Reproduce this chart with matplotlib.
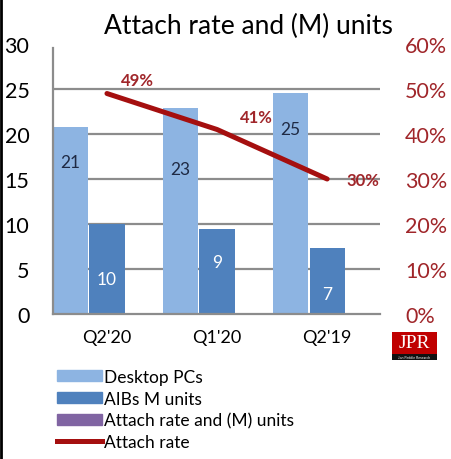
import numpy as np
import matplotlib.pyplot as plt
from matplotlib.patches import Rectangle
from matplotlib.lines import Line2D

plt.rcParams['font.family'] = ['Lato', 'DejaVu Sans']

quarters = ["Q2'20", "Q1'20", "Q2'19"]
desktop_pcs = [20.8, 22.9, 24.6]
aib_units = [10.0, 9.4, 7.3]
attach_rate = [0.49, 0.41, 0.30]

# hand placed label heights as in the original
desktop_label_y = [16.9, 16.1, 20.5]
aib_label_y = [3.9, 5.8, 2.2]
rate_label_pos = [(0.28, 0.52), (0.36, 0.438), (0.32, 0.298)]

c_desk = '#8DB4E2'
c_aib = '#4F81BD'
c_purple = '#8064A2'
c_line = '#A50F0F'
c_red_text = '#A0262A'
c_grid = '#8C8C8C'

fig = plt.figure(figsize=(4.51, 4.60), dpi=100)
ax = fig.add_axes([53/451, 1 - 315/460, 327/451, 270/460])
x = np.arange(len(quarters))
w = 0.32

ax.bar(x - 0.335, desktop_pcs, w, color=c_desk, zorder=2)
ax.bar(x, aib_units, w, color=c_aib, zorder=2)

for i in range(len(quarters)):
    ax.text(x[i] - 0.335, desktop_label_y[i], f'{desktop_pcs[i]:.0f}', ha='center', va='center',
            fontsize=12.5, color='#1F2A44', zorder=3)
    ax.text(x[i], aib_label_y[i], f'{aib_units[i]:.0f}', ha='center', va='center',
            fontsize=12.5, color='white', zorder=3)

ax.set_xlim(-0.49, 2.48)
ax.set_ylim(0, 30)
ax.set_yticks(range(0, 31, 5))
for g in range(5, 30, 5):
    ax.axhline(g, color=c_grid, lw=1.6, zorder=1)
for s in ['top', 'right']:
    ax.spines[s].set_visible(False)
ax.spines['left'].set_color(c_grid)
ax.spines['bottom'].set_color(c_grid)
ax.spines['left'].set_linewidth(1.6)
ax.spines['bottom'].set_linewidth(1.6)
ax.spines['left'].set_bounds(0, 29.6)
ax.tick_params(axis='y', length=0, labelsize=15.5, pad=17)
ax.tick_params(axis='x', length=0, labelsize=13, pad=11)
ax.set_xticks(x)
ax.set_xticklabels(quarters)

ax2 = ax.twinx()
ax2.set_ylim(0, 0.6)
ax2.set_yticks(np.arange(0, 0.61, 0.1))
ax2.set_yticklabels([f'{v}%' for v in range(0, 61, 10)])
ax2.tick_params(axis='y', length=0, labelsize=15.5, pad=18, labelcolor=c_red_text)
for s in ax2.spines.values():
    s.set_visible(False)
ax2.plot(x, attach_rate, color=c_line, lw=3.6, solid_capstyle='round', zorder=4)
for i in range(len(quarters)):
    dx, yy = rate_label_pos[i]
    ax2.text(x[i] + dx, yy, f'{attach_rate[i]*100:.0f}%', ha='center', va='center',
             fontsize=12, fontweight='bold', color=c_red_text, zorder=5)

fig.text(248/451, 1 - 26/460, 'Attach rate and (M) units', ha='center', va='center', fontsize=19)

# legend
handles = [Rectangle((0, 0), 1, 1, color=c_desk),
           Rectangle((0, 0), 1, 1, color=c_aib),
           Rectangle((0, 0), 1, 1, color=c_purple),
           Line2D([0], [0], color=c_line, lw=3.6)]
labels = ['Desktop PCs', 'AIBs M units', 'Attach rate and (M) units', 'Attach rate']
fig.legend(handles, labels, loc='upper left', bbox_to_anchor=(50/451, 1 - 363/460),
           frameon=False, fontsize=12.5, handlelength=2.6, handleheight=0.6,
           handletextpad=0.1, labelspacing=0.33, borderaxespad=0)

# JPR logo
fig.patches.append(Rectangle((392/451, 1 - 361/460), 45/451, 28/460, transform=fig.transFigure,
                             facecolor='#C00000', edgecolor='none'))
fig.patches.append(Rectangle((392/451, 1 - 361/460), 45/451, 6/460, transform=fig.transFigure,
                             facecolor='#111111', edgecolor='none'))
fig.text(414/451, 1 - 344/460, 'JPR', ha='center', va='center', color='white', fontsize=14,
         family='Liberation Serif')
fig.text(414/451, 1 - 358/460, 'Jon Peddie Research', ha='center', va='center', color='white',
         fontsize=2.5)

fig.lines.append(Line2D([0.002, 0.002], [0, 1], transform=fig.transFigure, color='black', lw=2))

fig.savefig('out.png', dpi=100)
